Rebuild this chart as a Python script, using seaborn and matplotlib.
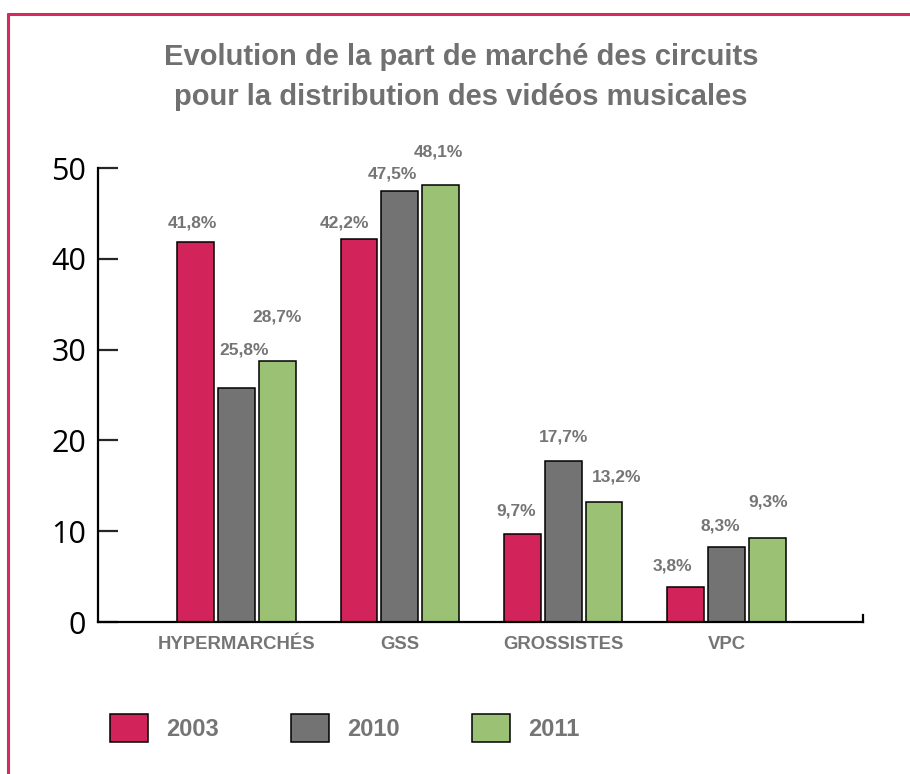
import matplotlib
matplotlib.use("Agg")
import matplotlib.pyplot as plt
from matplotlib.lines import Line2D
from matplotlib.patches import Patch
import pandas as pd
import seaborn as sns

# Market share (%) of each distribution channel for music videos
categories = ["HYPERMARCHÉS", "GSS", "GROSSISTES", "VPC"]
years = ["2003", "2010", "2011"]
share_2003 = [41.8, 42.2, 9.7, 3.8]
share_2010 = [25.8, 47.5, 17.7, 8.3]
share_2011 = [28.7, 48.1, 13.2, 9.3]
y_ticks = [0, 10, 20, 30, 40, 50]

title_lines = [
    "Evolution de la part de marché des circuits",
    "pour la distribution des vidéos musicales",
]

palette = {"2003": "#D2245A", "2010": "#737373", "2011": "#9BC274"}
frame_color = "#D42A5E"
text_gray = "#757575"

# hand-tuned placement of the value labels (pixels from the top of each bar)
label_offsets = {
    "2003": [(-3.5, 19), (-14, 16), (-6.5, 23), (-13.5, 21)],
    "2010": [(7.5, 38), (-7, 17), (0, 24), (-6.5, 21)],
    "2011": [(0, 44), (-2.5, 33), (12.5, 25), (0.5, 36)],
}

df = pd.DataFrame({
    "circuit": categories * 3,
    "annee": ["2003"] * 4 + ["2010"] * 4 + ["2011"] * 4,
    "part": share_2003 + share_2010 + share_2011,
})

sns.set_style("white")
plt.rcParams["font.family"] = ["Liberation Sans", "DejaVu Sans"]

W, H = 910, 774
fig = plt.figure(figsize=(W / 100, H / 100), dpi=100)
ax = fig.add_axes([98 / W, (H - 622) / H, 765 / W, 454 / H])

sns.barplot(
    data=df, x="circuit", y="part", hue="annee",
    order=categories, hue_order=years, palette=palette,
    width=0.75, gap=0.1, saturation=1,
    edgecolor="black", linewidth=1.1, legend=False, ax=ax,
)

ax.set_xlim(-0.848, 3.836)
ax.set_ylim(0, 50)
ax.set_xlabel("")
ax.set_ylabel("")

# axes lines
ax.spines["top"].set_visible(False)
ax.spines["right"].set_bounds(0, 0.8)
for side in ["left", "bottom", "right"]:
    ax.spines[side].set_linewidth(1.6)
    ax.spines[side].set_color("black")

ax.set_yticks(y_ticks)
ax.tick_params(axis="y", direction="in", length=14.4, width=1.6,
               pad=8.6, labelsize=22, labelcolor="black", left=True)
for lab in ax.get_yticklabels():
    lab.set_fontfamily(["Open Sans", "DejaVu Sans"])

ax.tick_params(axis="x", length=0, pad=10, labelsize=13.3, labelcolor=text_gray)
for lab in ax.get_xticklabels():
    lab.set_fontweight("bold")

# value labels above each bar
for year, container in zip(years, ax.containers):
    for bar, (dx, dy) in zip(container, label_offsets[year]):
        v = bar.get_height()
        ax.annotate(
            f"{v:.1f}".replace(".", ",") + "%",
            xy=(bar.get_x() + bar.get_width() / 2, v),
            xytext=(dx, dy), textcoords="offset pixels",
            ha="center", va="center", fontsize=12.5, fontweight="bold",
            color=text_gray, annotation_clip=False,
        )

# title
for i, line in enumerate(title_lines):
    fig.text(461 / W, 1 - (57 + 40 * i) / H, line, ha="center", va="center",
             fontsize=21, fontweight="bold", color="#707070")

# legend
handles = [Patch(facecolor=palette[y], edgecolor="black", linewidth=1.1, label=y)
           for y in years]
fig.legend(
    handles=handles, loc="center left", bbox_to_anchor=(110 / W, 1 - 728 / H),
    ncol=3, frameon=False, prop={"size": 17, "weight": "bold"},
    labelcolor=text_gray, handlelength=1.61, handleheight=1.48,
    handletextpad=0.76, columnspacing=3.06, borderaxespad=0, borderpad=0,
)

# page frame
fig.add_artist(Line2D([8 / W, 1], [1 - 14 / H] * 2, transform=fig.transFigure,
                      color=frame_color, lw=2.2))
fig.add_artist(Line2D([8 / W] * 2, [0, 1 - 14 / H], transform=fig.transFigure,
                      color=frame_color, lw=2.2))

fig.savefig("out.png", dpi=100)
